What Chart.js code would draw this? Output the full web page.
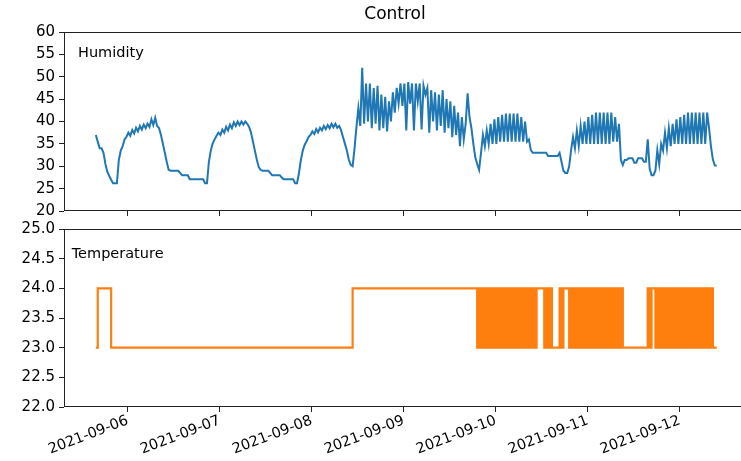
<!DOCTYPE html>
<html><head><meta charset="utf-8">
<script src="https://cdn.jsdelivr.net/npm/chart.js@4/dist/chart.umd.min.js"></script>
<style>
html,body{margin:0;padding:0;background:#fff;overflow:hidden;width:741px;height:461px;}
#wrap{position:relative;width:741px;height:461px;overflow:hidden;background:#fff;}
canvas{position:absolute;left:0;}
</style></head><body>
<div id="wrap">
<canvas id="topc" width="790" height="220" style="top:0"></canvas>
<canvas id="botc" width="790" height="241" style="top:220px"></canvas>
</div>
<script>
// ---- data ----
const chartTitle = 'Control';
const dayLabels = ['2021-09-06','2021-09-07','2021-09-08','2021-09-09','2021-09-10','2021-09-11','2021-09-12'];
const humTicks = [20,25,30,35,40,45,50,55,60];
const tempTicks = [22.0,22.5,23.0,23.5,24.0,24.5,25.0];
// first reading: days after 2021-09-06 00:00, readings every 30 min
const firstReadingDay = -0.347;
const readingStepDay = 1/48;
const humidity = [
37.0,35.5,34.0,34.0,33.0,30.5,28.8,27.8,27.0,26.2,26.2,26.2,31.4,33.5,34.5,36.0,36.6,37.5,
36.8,38.1,37.3,38.6,37.8,39.0,38.2,39.3,38.5,39.5,38.8,40.5,39.2,40.8,39.0,38.5,37.0,35.0,33.0,31.0,29.2,
29.0,29.0,29.0,29.0,29.0,28.5,
28.0,28.0,28.0,28.0,
27.1,27.1,27.1,27.1,27.1,27.1,27.1,27.1,
26.2,26.2,
31.0,33.5,35.1,36.0,36.8,37.5,37.0,38.2,37.5,38.8,38.0,39.3,38.5,39.8,39.0,40.0,39.2,40.0,39.3,40.0,39.5,
38.8,37.5,35.5,33.5,31.5,29.8,29.2,
29.0,29.0,29.0,29.0,28.5,28.0,28.0,28.0,28.0,28.0,27.5,
27.1,27.1,27.1,27.1,27.1,27.1,26.2,26.2,
28.5,31.4,33.5,34.8,35.6,36.5,37.0,37.8,37.2,38.3,37.6,38.6,38.0,39.0,38.3,39.2,38.5,39.5,38.7,39.5,38.6,39.0,38.0,
36.5,35.0,33.5,31.5,30.3,30.0,34.0,38.8,43.0,
39.0,52.0,39.5,48.5,40.0,48.5,38.5,47.5,39.5,48.0,38.0,46.0,38.5,45.5,37.8,44.5,40.0,46.5,42.0,47.5,
44.0,48.5,43.5,48.5,38.0,48.8,44.0,48.5,38.0,48.5,44.5,48.5,38.2,48.0,
46.0,47.5,37.5,47.0,40.0,46.5,38.0,46.0,39.0,47.0,37.5,45.0,38.5,44.5,36.5,43.5,37.0,42.0,34.5,41.0,
36.0,39.5,46.3,41.0,38.5,35.0,32.0,30.5,29.2,33.0,
37.0,34.5,38.0,35.0,39.5,35.0,40.5,35.0,41.0,35.5,41.5,35.5,41.8,35.5,41.8,35.5,41.8,35.5,41.8,35.5,
41.0,35.5,40.0,35.5,36.0,33.6,
33.0,33.0,33.0,33.0,33.0,33.0,33.0,33.0,
32.3,32.3,32.3,32.3,32.3,32.3,
33.0,31.0,29.0,28.5,28.5,30.0,33.6,36.5,
34.0,38.0,34.5,39.0,35.0,40.0,35.0,41.0,35.0,41.5,35.0,42.0,35.0,42.0,35.0,42.0,35.0,42.0,35.0,42.0,
35.5,41.0,35.5,39.5,
31.4,30.3,31.4,31.4,31.8,31.8,31.8,30.8,30.8,31.8,31.8,31.8,31.0,31.0,36.0,29.5,28.0,28.0,29.0,33.6,
30.5,35.0,
33.5,37.5,34.0,38.5,34.5,39.5,35.0,40.5,35.0,41.0,35.0,41.5,35.0,42.0,35.0,42.0,35.0,42.0,35.0,42.0,
35.0,42.0,35.0,42.0,
38.5,34.4,31.5,30.2,30.1
];
const temperature = [
23,24,24,24,24,24,24,24,
23,23,23,23,23,23,23,23,23,23,
23,23,23,23,23,23,23,23,23,23,
23,23,23,23,23,23,23,23,23,23,
23,23,23,23,23,23,23,23,23,23,
23,23,23,23,23,23,23,23,23,23,
23,23,23,23,23,23,23,23,23,23,
23,23,23,23,23,23,23,23,23,23,
23,23,23,23,23,23,23,23,23,23,
23,23,23,23,23,23,23,23,23,23,
23,23,23,23,23,23,23,23,23,23,
23,23,23,23,23,23,23,23,23,23,
23,23,23,23,23,23,23,23,23,23,
23,23,23,23,23,23,
24,24,24,24,24,24,24,24,24,24,
24,24,24,24,24,24,24,24,24,24,
24,24,24,24,24,24,24,24,24,24,
24,24,24,24,24,24,24,24,24,24,
24,24,24,24,24,24,24,24,24,24,
24,24,24,24,24,24,24,24,24,24,
24,24,24,24,24,
23,24,23,24,23,24,23,24,23,24,23,24,23,24,23,24,23,24,23,24,23,24,23,24,23,24,23,24,23,24,
23,24,24,24,24,
23,24,23,24,23,23,23,23,
24,23,24,24,24,
23,24,23,24,23,24,23,24,23,24,23,24,23,24,23,24,23,24,23,24,23,24,23,24,23,24,23,24,23,
23,23,23,23,23,23,23,23,23,23,23,23,
24,23,24,24,
23,24,23,24,23,24,23,24,23,24,23,24,23,24,23,24,23,24,23,24,23,24,23,24,23,24,23,24,23,24,
23,23,23
];
// ---- end data ----

const FONT = 'DejaVu Sans';
Chart.defaults.font.family = FONT;
Chart.defaults.color = '#000';
const XMIN = -0.693, XMAX = 6.743;

function pts(arr){ return arr.map((v,i)=>({x: firstReadingDay + i*readingStepDay, y: v})); }

const framePlugin = {
  id:'frame',
  afterDraw(chart, args, opts){
    const a = chart.chartArea, ctx = chart.ctx;
    ctx.save();
    ctx.strokeStyle = '#222'; ctx.lineWidth = 1;
    ctx.strokeRect(Math.round(a.left)+0.5, Math.round(a.top)+0.5, Math.round(a.right-a.left), Math.round(a.bottom-a.top)-1);
    if (opts.label){
      ctx.fillStyle = '#000';
      ctx.font = opts.labelSize + 'px ' + FONT;
      ctx.textAlign = 'left'; ctx.textBaseline = 'middle';
      ctx.fillText(opts.label, opts.lx, opts.ly);
    }
    if (opts.title){
      ctx.font = opts.titleSize + 'px ' + FONT;
      ctx.textAlign = 'center'; ctx.textBaseline = 'middle';
      ctx.fillText(opts.title, opts.tx, opts.ty);
    }
    ctx.restore();
  }
};

function xScale(showLabels, h){
  return {
    type:'linear', min:XMIN, max:XMAX,
    afterBuildTicks: s => { s.ticks = dayLabels.map((_,i)=>({value:i})); },
    ticks:{display:showLabels, autoSkip:false, maxRotation:21, minRotation:21, padding:0,
      font:{size:14.5}, color:'#000',
      callback: v => dayLabels[Math.round(v)] || ''},
    grid:{drawOnChartArea:false, drawTicks:true, tickLength:5, tickColor:'#222', tickWidth:1},
    border:{display:false},
    afterFit: s => { s.height = h; s.paddingLeft = 0; s.paddingRight = 0; }
  };
}
function yScale(min, max, ticksArr, fmt){
  return {
    type:'linear', min, max,
    afterBuildTicks: s => { s.ticks = ticksArr.map(v=>({value:v})); },
    ticks:{font:{size:15}, color:'#000', padding:4, callback: fmt},
    grid:{drawOnChartArea:false, drawTicks:true, tickLength:5, tickColor:'#222', tickWidth:1},
    border:{display:false},
    afterFit: s => { s.width = 64; s.paddingTop = 0; s.paddingBottom = 0; }
  };
}

new Chart(document.getElementById('topc'), {
  type:'line',
  data:{datasets:[{label:'Humidity', data: pts(humidity), borderColor:'#1f77b4', borderWidth:2,
    pointRadius:0, tension:0, fill:false}]},
  options:{
    responsive:false, animation:false, events:[],
    layout:{padding:{left:0, right:42, top:32, bottom:0}},
    plugins:{legend:{display:false}, tooltip:{enabled:false},
      frame:{label:'Humidity', labelSize:14.5, lx:78, ly:53, title:chartTitle, titleSize:17, tx:395, ty:15}},
    scales:{ x: xScale(false, 9), y: yScale(20, 60, humTicks, v => String(v)) }
  },
  plugins:[framePlugin]
});

new Chart(document.getElementById('botc'), {
  type:'line',
  data:{datasets:[{label:'Temperature', data: pts(temperature), borderColor:'#ff7f0e', borderWidth:2.2,
    pointRadius:0, stepped:true, fill:false}]},
  options:{
    responsive:false, animation:false, events:[],
    layout:{padding:{left:0, right:42, top:9, bottom:0}},
    plugins:{legend:{display:false}, tooltip:{enabled:false},
      frame:{label:'Temperature', labelSize:14.5, lx:71.7, ly:34}},
    scales:{ x: xScale(true, 54), y: yScale(22, 25, tempTicks, v => Number(v).toFixed(1)) }
  },
  plugins:[framePlugin]
});
</script>
</body></html>
